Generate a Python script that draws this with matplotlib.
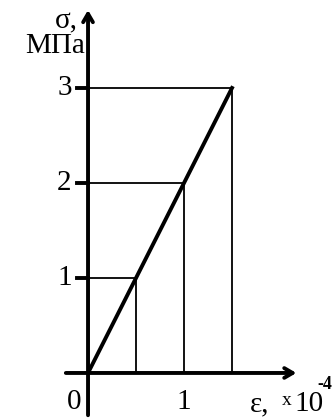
import numpy as np
import matplotlib.pyplot as plt

plt.rcParams['font.family'] = ['Liberation Serif', 'DejaVu Serif']

# strain (x1e-4) and stress (MPa)
strain = [0.0, 0.5, 1.0, 1.5]
stress = [0.0, 1.0, 2.0, 3.0]
y_ticks = [1, 2, 3]
x_ticks = [0, 1]

fig = plt.figure(figsize=(3.33, 4.18), dpi=100)
ax = fig.add_axes([0, 0, 1, 1])
ax.set_xlim(-0.917, 2.552)
ax.set_ylim(-0.474, 3.926)
ax.axis('off')

arrow = dict(arrowstyle='->,head_length=0.6,head_width=0.35', lw=2.8, color='black')
# axes with arrows
ax.annotate('', xy=(2.2, 0), xytext=(-0.26, 0), arrowprops=arrow)
ax.annotate('', xy=(0, 3.85), xytext=(0, -0.474), arrowprops=arrow)

# guide lines to each point
for e, s in zip(strain[1:], stress[1:]):
    ax.plot([0, e], [s, s], color='black', lw=1.3)
    ax.plot([e, e], [0, s], color='black', lw=1.3)

ax.plot(strain, stress, color='black', lw=2.8)

# y ticks
for t in y_ticks:
    ax.plot([-0.11, 0], [t, t], color='black', lw=2.8)
    ax.text(-0.17, t, str(t), ha='right', va='center', fontsize=21)

for t in x_ticks:
    ax.text(t - 0.14 if t == 0 else t, -0.17, str(t), ha='center', va='top', fontsize=21)

ax.text(1.69, -0.33, 'ε,', ha='left', va='center', fontsize=21)
ax.text(2.02, -0.29, 'x', ha='left', va='center', fontsize=14)
ax.text(2.15, -0.33, '10', ha='left', va='center', fontsize=21)
ax.text(2.47, -0.12, '-4', ha='center', va='center', fontsize=13, fontweight='bold')

ax.text(-0.104, 3.70, 'σ,', ha='right', va='center', fontsize=21)
ax.text(-0.03, 3.44, 'МПа', ha='right', va='center', fontsize=21)

fig.savefig('out.png', dpi=100)
